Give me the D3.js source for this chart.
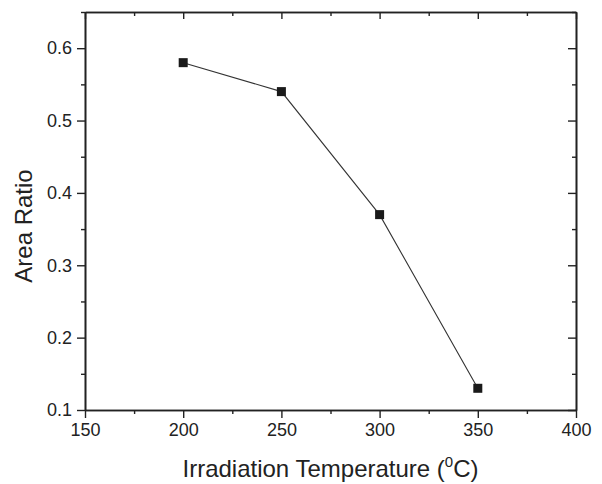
<!DOCTYPE html>
<html>
<head>
<meta charset="utf-8">
<script src="https://cdn.jsdelivr.net/npm/d3@7"></script>
<style>
  body { margin: 0; background: #fff; }
  text { font-family: "Liberation Sans", Arial, sans-serif; fill: #222; }
</style>
</head>
<body>
<div id="chart"></div>
<script>
// Data
const temperatures = [200, 250, 300, 350];
const areaRatios = [0.58, 0.54, 0.37, 0.13];
const xTicks = [150, 200, 250, 300, 350, 400];
const yTicks = [0.1, 0.2, 0.3, 0.4, 0.5, 0.6];

const width = 602, height = 484;
const margin = { top: 12, right: 26, bottom: 74, left: 85 };
const innerW = width - margin.left - margin.right;
const innerH = height - margin.top - margin.bottom;

const svg = d3.select('#chart').append('svg')
    .attr('width', width)
    .attr('height', height);

const g = svg.append('g')
    .attr('transform', `translate(${margin.left},${margin.top})`);

const x = d3.scaleLinear().domain([150, 400]).range([0, innerW]);
const y = d3.scaleLinear().domain([0.1, 0.65]).range([innerH, 0]);

// minor ticks halfway between majors
const xMinor = d3.range(175, 400, 50);
const yMinor = d3.range(0.15, 0.66, 0.1);

const axisColor = '#222';

function styleAxis(sel) {
    sel.select('.domain').attr('stroke', axisColor).attr('stroke-width', 1.6);
    sel.selectAll('.tick line').attr('stroke', axisColor).attr('stroke-width', 1.4);
    sel.selectAll('.tick text').attr('font-size', '18px').attr('fill', axisColor);
}

// Bottom axis: ticks outward
g.append('g')
    .attr('transform', `translate(0,${innerH})`)
    .call(d3.axisBottom(x).tickValues(xTicks).tickSize(8).tickPadding(5).tickSizeOuter(0))
    .call(styleAxis);
g.append('g')
    .attr('transform', `translate(0,${innerH})`)
    .call(d3.axisBottom(x).tickValues(xMinor).tickSize(4).tickFormat('').tickSizeOuter(0))
    .call(styleAxis);

// Left axis: ticks outward
g.append('g')
    .call(d3.axisLeft(y).tickValues(yTicks).tickSize(8).tickPadding(5).tickFormat(d3.format('.1f')).tickSizeOuter(0))
    .call(styleAxis);
g.append('g')
    .call(d3.axisLeft(y).tickValues(yMinor).tickSize(4).tickFormat('').tickSizeOuter(0))
    .call(styleAxis);

// Top axis: ticks inward
g.append('g')
    .call(d3.axisTop(x).tickValues(xTicks).tickSize(-7).tickFormat('').tickSizeOuter(0))
    .call(styleAxis);
g.append('g')
    .call(d3.axisTop(x).tickValues(xMinor).tickSize(-4).tickFormat('').tickSizeOuter(0))
    .call(styleAxis);

// Right axis: ticks inward
g.append('g')
    .attr('transform', `translate(${innerW},0)`)
    .call(d3.axisRight(y).tickValues(yTicks).tickSize(-8).tickFormat('').tickSizeOuter(0))
    .call(styleAxis);
g.append('g')
    .attr('transform', `translate(${innerW},0)`)
    .call(d3.axisRight(y).tickValues(yMinor).tickSize(-4).tickFormat('').tickSizeOuter(0))
    .call(styleAxis);

// Line
const points = temperatures.map((t, i) => ({ t, r: areaRatios[i] }));
const line = d3.line().x(d => x(d.t)).y(d => y(d.r));

g.append('path')
    .datum(points)
    .attr('d', line)
    .attr('fill', 'none')
    .attr('stroke', '#333')
    .attr('stroke-width', 1.1);

// Square markers
const size = 9;
g.selectAll('rect.marker')
    .data(points)
    .enter()
    .append('rect')
    .attr('class', 'marker')
    .attr('x', d => x(d.t) - size / 2)
    .attr('y', d => y(d.r) - size / 2)
    .attr('width', size)
    .attr('height', size)
    .attr('fill', '#1a1a1a');

// Axis titles
const xTitle = svg.append('text')
    .attr('x', margin.left + innerW / 2)
    .attr('y', 477)
    .attr('text-anchor', 'middle')
    .attr('font-size', '24px');
xTitle.append('tspan').text('Irradiation Temperature (');
xTitle.append('tspan').attr('font-size', '15px').attr('dy', '-10').text('0');
xTitle.append('tspan').attr('dy', '10').text('C)');

svg.append('text')
    .attr('transform', `translate(32,${margin.top + innerH / 2 + 15}) rotate(-90)`)
    .attr('text-anchor', 'middle')
    .attr('font-size', '24px')
    .text('Area Ratio');
</script>
</body>
</html>
